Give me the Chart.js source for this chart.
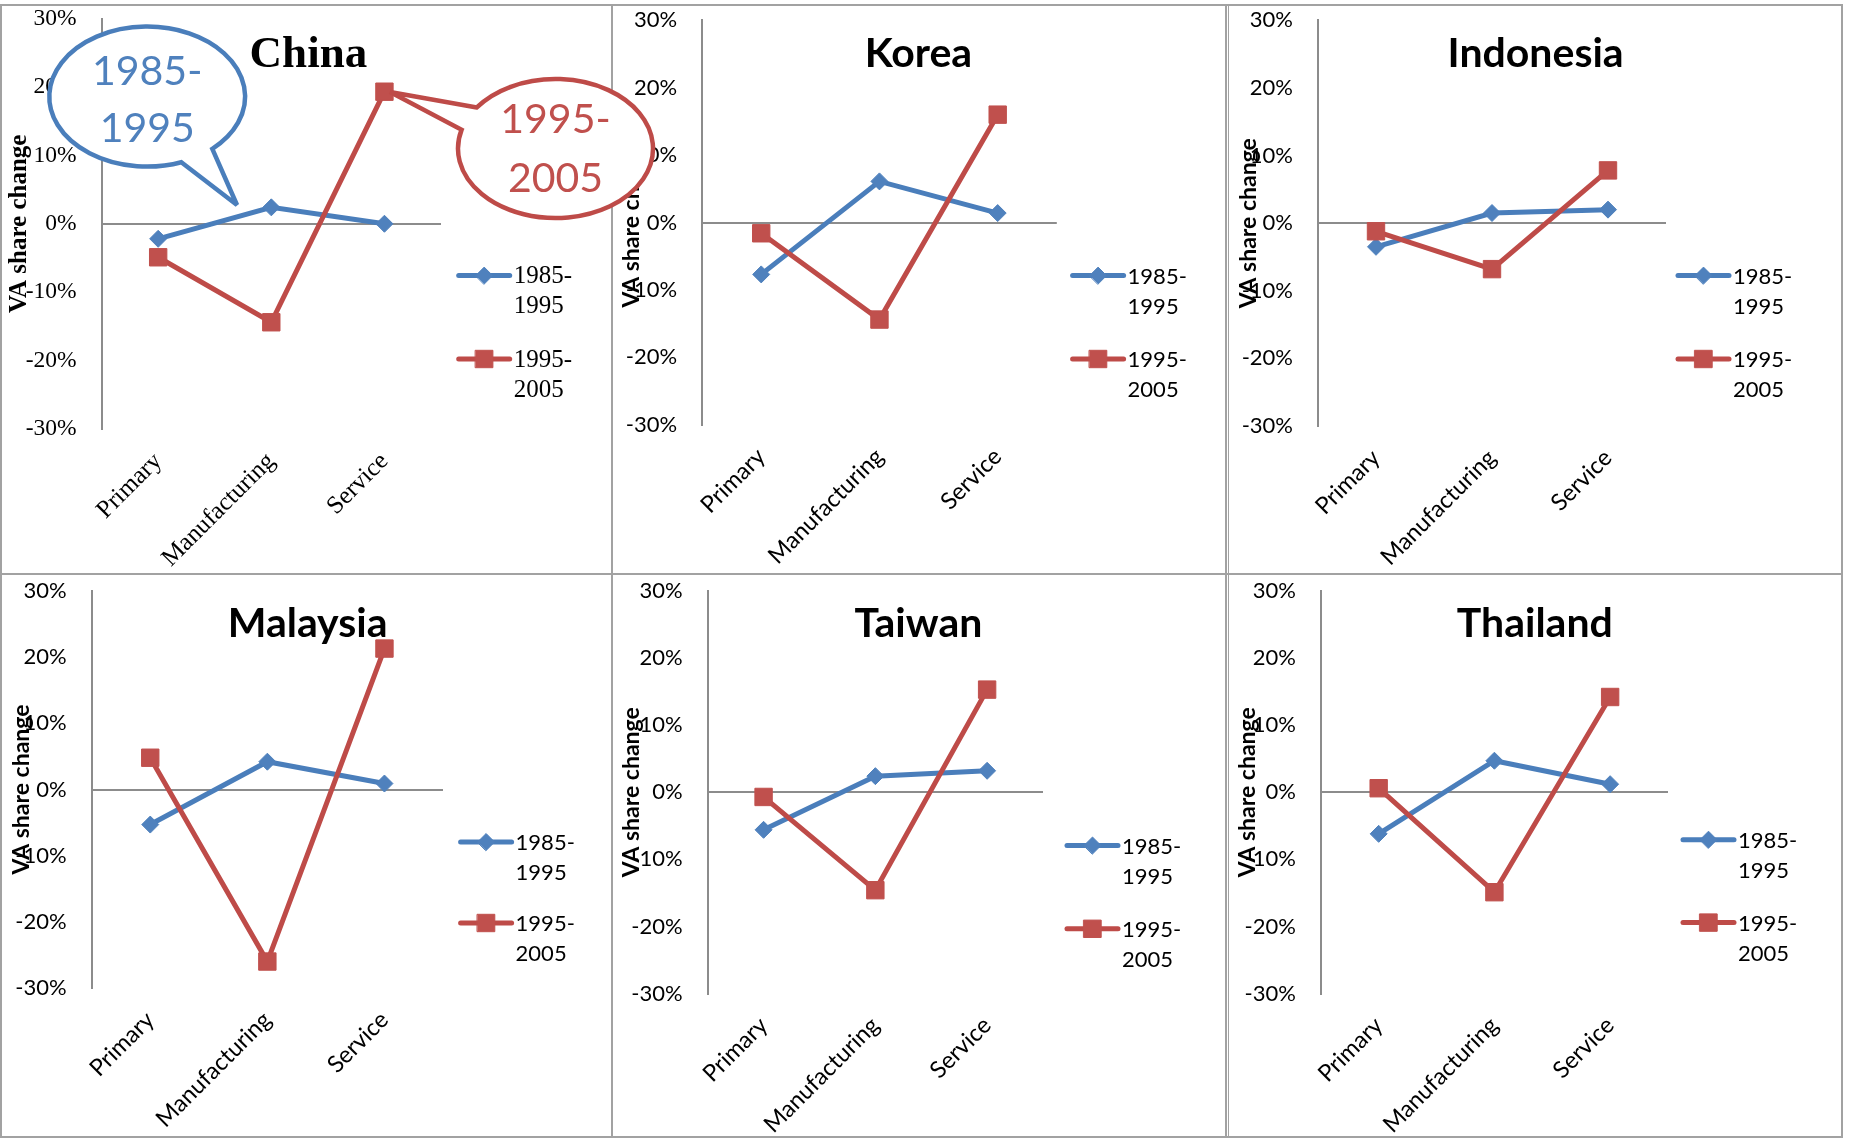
<!DOCTYPE html>
<html>
<head>
<meta charset="utf-8">
<script src="https://cdn.jsdelivr.net/npm/chart.js@4.4.1/dist/chart.umd.min.js"></script>
<style>
  html, body { margin: 0; padding: 0; background: #fff; }
  #page { position: relative; width: 1851px; height: 1140px; overflow: hidden; background: #fff; }
  #page canvas { position: absolute; }
  .rule { position: absolute; background: #a2a2a2; }
  #callouts { position: absolute; left: 0; top: 0; pointer-events: none; }
</style>
</head>
<body>
<div id="page"></div>
<script>
// Sectors on the category axis
const categories = ['Primary', 'Manufacturing', 'Service'];
// Periods compared in every panel
const periods = ['1985-1995', '1995-2005'];
const countries = ['China', 'Korea', 'Indonesia', 'Malaysia', 'Taiwan', 'Thailand'];

// Change in value-added share, percentage points
const china1985     = [-2.2,   2.4,  0.0];
const china1995     = [-4.9, -14.4, 19.3];
const korea1985     = [-7.7,   6.1,  1.4];
const korea1995     = [-1.6, -14.4, 16.0];
const indonesia1985 = [-3.5,   1.5,  2.0];
const indonesia1995 = [-1.2,  -6.8,  7.8];
const malaysia1985  = [-5.3,   4.2,  0.9];
const malaysia1995  = [ 4.8, -26.0, 21.3];
const taiwan1985    = [-5.6,   2.4,  3.2];
const taiwan1995    = [-0.7, -14.6, 15.3];
const thailand1985  = [-6.2,   4.7,  1.2];
const thailand1995  = [ 0.6, -14.9, 14.2];

// Value axis
const yMin = -30, yMax = 30, yStep = 10;
const axisTitle = 'VA share change';

const seriesByCountry = {
  China: [china1985, china1995],
  Korea: [korea1985, korea1995],
  Indonesia: [indonesia1985, indonesia1995],
  Malaysia: [malaysia1985, malaysia1995],
  Taiwan: [taiwan1985, taiwan1995],
  Thailand: [thailand1985, thailand1995]
};

// Page layout of each panel: canvas box, plot rectangle, title, axis title and legend placement
const layout = {
  China:     { box: [2, 0, 609, 573],     plot: [101.6, 18.5, 441, 429],      title: [308.4, 66.6],  axisX: 19.8,   legend: [458.7, 275.6, 359],   serif: true },
  Korea:     { box: [613, 0, 612, 573],   plot: [702.1, 20.3, 1056.8, 424.7], title: [918.4, 66.6],  axisX: 631.7,  legend: [1072.6, 275.6, 359] },
  Indonesia: { box: [1229, 0, 612, 573],  plot: [1318, 20.3, 1666, 426],      title: [1535.6, 66.6], axisX: 1249,   legend: [1678, 275.6, 359] },
  Malaysia:  { box: [2, 566, 609, 572],   plot: [91.7, 591, 443, 988],        title: [307.6, 637.2], axisX: 21.7,   legend: [460.6, 842, 923] },
  Taiwan:    { box: [613, 566, 612, 572], plot: [707.7, 591, 1043, 993.5],    title: [918.4, 637.2], axisX: 631.7,  legend: [1067, 845.5, 928.8] },
  Thailand:  { box: [1229, 566, 612, 572],plot: [1320.8, 591, 1668, 993.5],   title: [1534.8, 637.2], axisX: 1247.8, legend: [1683, 839.7, 922.6] }
};

const BLUE_LINE = '#4A7EBB', BLUE_MARK = '#4F81BD';
const RED_LINE = '#BE4B48', RED_MARK = '#C0504D';
const AXIS_GRAY = '#8c8c8c';

function fonts(serif) {
  if (serif) {
    const fam = '"Liberation Serif", "Times New Roman", serif';
    return { fam, tick: 23.5, cat: 25, legend: 25, axis: 25, title: 45 };
  }
  const fam = 'Lato, "Open Sans", sans-serif';
  return { fam, tick: 22, cat: 23.5, legend: 22, axis: 23, title: 41 };
}

// Panel title, rotated value-axis title and a two-line legend on the right
const panelDecor = {
  id: 'panelDecor',
  beforeDatasetsDraw(chart, _args, o) {
    const ctx = chart.ctx;
    ctx.save();
    ctx.fillStyle = '#000';
    ctx.font = 'bold ' + o.f.title + 'px ' + o.f.fam;
    ctx.textAlign = 'center';
    ctx.textBaseline = 'alphabetic';
    ctx.fillText(o.title, o.titlePos[0] - o.ox, o.titlePos[1] - o.oy);
    ctx.restore();
  },
  afterDatasetsDraw(chart, _args, o) {
    const ctx = chart.ctx;
    const area = chart.chartArea;
    ctx.save();
    // legend
    const [lx, ly1, ly2] = o.legend;
    chart.data.datasets.forEach((ds, i) => {
      const x = lx - o.ox;
      const y = (i === 0 ? ly1 : ly2) - o.oy;
      ctx.strokeStyle = ds.borderColor;
      ctx.lineWidth = ds.borderWidth;
      ctx.lineCap = 'round';
      ctx.beginPath();
      ctx.moveTo(x, y);
      ctx.lineTo(x + 51, y);
      ctx.stroke();
      ctx.fillStyle = ds.pointBackgroundColor;
      ctx.strokeStyle = ds.pointBorderColor;
      ctx.lineWidth = ds.pointBorderWidth;
      Chart.helpers.drawPoint(ctx, { pointStyle: ds.pointStyle, radius: ds.pointRadius, rotation: 0, borderWidth: ds.pointBorderWidth }, x + 25.5, y);
      const parts = ds.label.split('-');
      ctx.fillStyle = '#000';
      ctx.font = o.f.legend + 'px ' + o.f.fam;
      ctx.textAlign = 'left';
      ctx.textBaseline = 'middle';
      ctx.fillText(parts[0] + '-', x + 55, y + 1);
      ctx.fillText(parts[1], x + 55, y + 31);
    });
    // value-axis title
    ctx.translate(o.axisX - o.ox, (area.top + area.bottom) / 2);
    ctx.rotate(-Math.PI / 2);
    ctx.fillStyle = '#000';
    ctx.font = 'bold ' + o.f.axis + 'px ' + o.f.fam;
    ctx.textAlign = 'center';
    ctx.textBaseline = 'middle';
    ctx.fillText(axisTitle, 0, 0);
    ctx.restore();
  }
};

const page = document.getElementById('page');

countries.forEach(name => {
  const L = layout[name];
  const [bx, by, bw, bh] = L.box;
  const [pl, pt, pr, pb] = L.plot;
  const f = fonts(!!L.serif);
  const yAxisW = pl - bx - 3;
  const xAxisH = bh - (pb - by) - 2;
  const canvas = document.createElement('canvas');
  canvas.width = bw;
  canvas.height = bh;
  canvas.style.left = bx + 'px';
  canvas.style.top = by + 'px';
  canvas.style.width = bw + 'px';
  canvas.style.height = bh + 'px';
  page.appendChild(canvas);

  const [s1, s2] = seriesByCountry[name];
  new Chart(canvas, {
    type: 'line',
    data: {
      labels: categories,
      datasets: [
        {
          label: periods[0], data: s1, order: 1,
          borderColor: BLUE_LINE, backgroundColor: BLUE_MARK, borderWidth: 5,
          pointStyle: 'rectRot', pointRadius: 8.5, pointBorderWidth: 1,
          pointBackgroundColor: BLUE_MARK, pointBorderColor: BLUE_MARK,
          tension: 0, clip: false
        },
        {
          label: periods[1], data: s2, order: 0,
          borderColor: RED_LINE, backgroundColor: RED_MARK, borderWidth: 5,
          pointStyle: 'rect', pointRadius: 12.3, pointBorderWidth: 1,
          pointBackgroundColor: RED_MARK, pointBorderColor: RED_MARK,
          tension: 0, clip: false
        }
      ]
    },
    options: {
      responsive: false,
      animation: false,
      events: [],
      layout: {
        padding: { left: 3, top: pt - by, right: bw - (pr - bx), bottom: 2 }
      },
      plugins: {
        legend: { display: false },
        title: { display: false },
        tooltip: { enabled: false },
        panelDecor: {
          f, ox: bx, oy: by, title: name, titlePos: L.title, axisX: L.axisX, legend: L.legend
        }
      },
      scales: {
        x: {
          type: 'category',
          offset: true,
          grid: { display: false, drawTicks: false },
          border: { display: false },
          ticks: {
            autoSkip: false, minRotation: 45, maxRotation: 45, padding: 18,
            color: '#000', font: { family: f.fam, size: f.cat }
          },
          afterFit(scale) { scale.height = xAxisH; }
        },
        y: {
          min: yMin, max: yMax,
          grid: {
            drawTicks: true,
            tickLength: 22,
            tickColor: 'rgba(0,0,0,0)',
            lineWidth: 2,
            color: ctx => (ctx.tick && ctx.tick.value === 0 ? AXIS_GRAY : 'rgba(0,0,0,0)')
          },
          border: { display: true, color: AXIS_GRAY, width: 2 },
          ticks: {
            stepSize: yStep, padding: 3, color: '#000',
            font: { family: f.fam, size: f.tick },
            callback: v => v + '%'
          },
          afterFit(scale) { scale.width = yAxisW; }
        }
      }
    },
    plugins: [panelDecor]
  });
});

// Panel frame rules
const rules = [
  [0, 4, 1843, 2], [0, 573, 1843, 2], [0, 1136, 1843, 2],
  [0, 4, 2, 1134], [611, 4, 2, 1134], [1225, 4, 1.5, 1134], [1227.5, 4, 1.5, 1134], [1841, 4, 2, 1134]
];
rules.forEach(([x, y, w, h]) => {
  const d = document.createElement('div');
  d.className = 'rule';
  d.style.left = x + 'px'; d.style.top = y + 'px';
  d.style.width = w + 'px'; d.style.height = h + 'px';
  page.appendChild(d);
});

// Speech-bubble callouts naming the two periods in the China panel
const callouts = [
  { lines: ['1985-', '1995'], stroke: BLUE_LINE, text: BLUE_MARK, cx: 147.2, cy: 96.6, rx: 97.9, ry: 70,
    a1: 69.6, a2: 48.3, tip: [237, 205], baselines: [85, 142.4] },
  { lines: ['1995-', '2005'], stroke: RED_LINE, text: RED_MARK, cx: 555.5, cy: 148.5, rx: 97.5, ry: 69.5,
    a1: 216.2, a2: 195.7, tip: [390, 92], baselines: [133.2, 192.4] }
];
const NS = 'http://www.w3.org/2000/svg';
const svg = document.createElementNS(NS, 'svg');
svg.setAttribute('id', 'callouts');
svg.setAttribute('width', 1851);
svg.setAttribute('height', 1140);
callouts.forEach(c => {
  const pt = a => {
    const r = a * Math.PI / 180;
    return [c.cx + c.rx * Math.cos(r), c.cy + c.ry * Math.sin(r)];
  };
  const A = pt(c.a1), B = pt(c.a2);
  const path = document.createElementNS(NS, 'path');
  path.setAttribute('d',
    `M${A[0]},${A[1]} L${c.tip[0]},${c.tip[1]} L${B[0]},${B[1]} A${c.rx},${c.ry} 0 1 0 ${A[0]},${A[1]} Z`);
  path.setAttribute('fill', '#fff');
  path.setAttribute('stroke', c.stroke);
  path.setAttribute('stroke-width', 4.5);
  path.setAttribute('stroke-linejoin', 'miter');
  svg.appendChild(path);
  c.lines.forEach((t, i) => {
    const tx = document.createElementNS(NS, 'text');
    tx.setAttribute('x', c.cx);
    tx.setAttribute('y', c.baselines[i]);
    tx.setAttribute('text-anchor', 'middle');
    tx.setAttribute('font-family', 'Lato, "Open Sans", sans-serif');
    tx.setAttribute('font-size', 41);
    tx.setAttribute('fill', c.text);
    tx.textContent = t;
    svg.appendChild(tx);
  });
});
page.appendChild(svg);
</script>
</body>
</html>
